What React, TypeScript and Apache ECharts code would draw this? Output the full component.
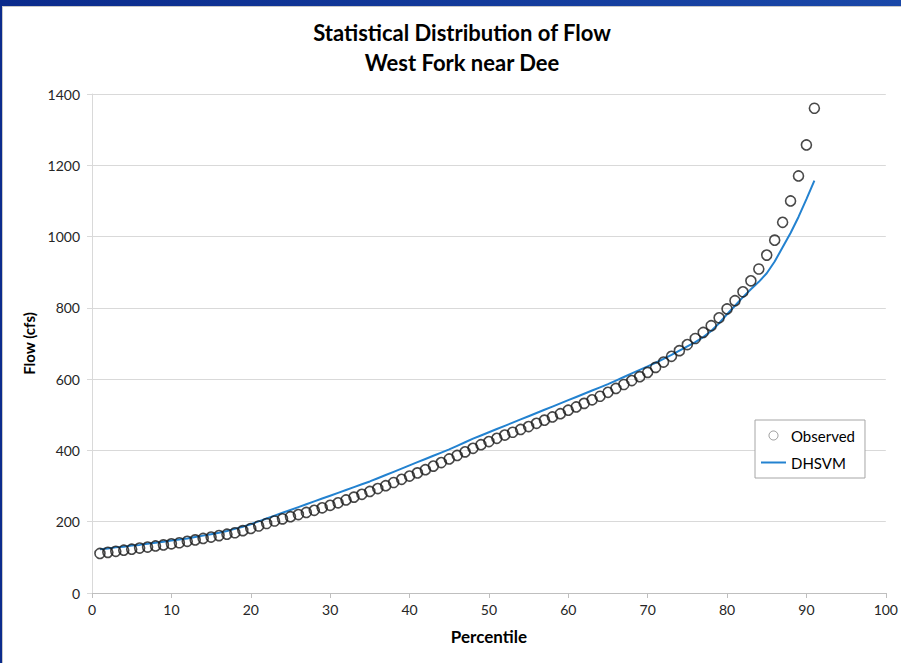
import React, { useEffect, useRef } from "react";
import * as echarts from "echarts";

const percentiles: number[] = Array.from({ length: 91 }, (_, i) => i + 1);

const observed: number[] = [
  111, 114, 117, 120, 123, 126, 129, 132, 135, 138,
  141, 145, 149, 153, 157, 161, 165, 169, 175, 181,
  188, 195, 202, 208, 214, 220, 226, 232, 239, 246,
  253, 261, 269, 277, 285, 293, 301, 310, 319, 328,
  337, 346, 356, 366, 376, 386, 396, 406, 416, 425,
  434, 443, 451, 459, 467, 476, 485, 494, 503, 513,
  522, 532, 542, 552, 563, 574, 585, 596, 607, 619,
  633, 648, 664, 680, 697, 714, 731, 750, 772, 797,
  820, 845, 876, 909, 948, 990, 1040, 1100, 1170, 1257,
  1360,
];

const dhsvm: number[] = [
  123, 125, 128, 130, 133, 135, 138, 141, 144, 147,
  150, 153, 157, 161, 165, 169, 174, 180, 186, 193,
  201, 209, 217, 225, 233, 241, 249, 257, 265, 273,
  281, 289, 297, 305, 313, 322, 331, 340, 349, 358,
  367, 376, 385, 394, 403, 413, 423, 433, 442, 451,
  460, 469, 478, 487, 496, 505, 514, 523, 532, 541,
  550, 559, 568, 577, 586, 596, 606, 616, 626, 636,
  646, 657, 668, 680, 692, 704, 718, 735, 757, 782,
  806, 830, 852, 873, 897, 930, 970, 1010, 1055, 1105,
  1157,
];

const titleLines: string[] = ["Statistical Distribution of Flow", "West Fork near Dee"];
const xAxisName = "Percentile";
const yAxisName = "Flow (cfs)";
const seriesNames: string[] = ["Observed", "DHSVM"];

const FONT = "Lato, 'Open Sans', sans-serif";

export default function App() {
  const ref = useRef<HTMLDivElement>(null);

  useEffect(() => {
    if (!ref.current) return;
    const chart = echarts.init(ref.current, undefined, { renderer: "svg" });
    chart.setOption({
      animation: false,
      backgroundColor: "transparent",
      textStyle: { fontFamily: FONT },
      title: {
        text: titleLines.join("\n"),
        left: 457,
        top: 12,
        textAlign: "center",
        textStyle: {
          fontFamily: FONT,
          fontSize: 22,
          fontWeight: "bold",
          color: "#000",
          lineHeight: 30,
        },
      },
      legend: {
        orient: "vertical",
        left: 755,
        top: 420,
        padding: [8, 10, 8, 6],
        itemGap: 12,
        itemWidth: 25,
        itemHeight: 9,
        backgroundColor: "#fff",
        borderColor: "#a6a6a6",
        borderWidth: 1,
        textStyle: { fontFamily: FONT, fontSize: 15, color: "#000" },
        data: [
          {
            name: seriesNames[0],
            icon: "circle",
            itemStyle: { color: "rgba(255,255,255,0)", borderColor: "#808080", borderWidth: 1 },
          },
          {
            name: seriesNames[1],
            icon: "path://M0 0H25V2H0Z",
            itemStyle: { color: "#2382d0", borderWidth: 0 },
          },
        ],
      },
      grid: { left: 92, right: 15, top: 94, bottom: 70, containLabel: false },
      xAxis: {
        type: "value",
        min: 0,
        max: 100,
        interval: 10,
        name: xAxisName,
        nameLocation: "middle",
        nameGap: 35,
        nameTextStyle: { fontFamily: FONT, fontSize: 17, fontWeight: "bold", color: "#000" },
        axisLine: { show: true, onZero: false, lineStyle: { color: "#bfbfbf", width: 1 } },
        axisTick: { show: true, length: 5, lineStyle: { color: "#bfbfbf" } },
        axisLabel: { fontFamily: FONT, fontSize: 14, color: "#262626", margin: 9 },
        splitLine: { show: false },
      },
      yAxis: {
        type: "value",
        min: 0,
        max: 1400,
        interval: 200,
        name: yAxisName,
        nameLocation: "middle",
        nameRotate: 90,
        nameGap: 51,
        nameTextStyle: { fontFamily: FONT, fontSize: 15, fontWeight: "bold", color: "#000" },
        axisLine: { show: true, lineStyle: { color: "#d9d9d9", width: 1 } },
        axisTick: { show: true, length: 5, lineStyle: { color: "#d9d9d9" } },
        axisLabel: {
          fontFamily: FONT,
          fontSize: 14,
          color: "#262626",
          margin: 12,
          formatter: (v: number) => String(v),
        },
        splitLine: { show: true, lineStyle: { color: "#d9d9d9", width: 1 } },
      },
      series: [
        {
          name: seriesNames[1],
          type: "line",
          data: percentiles.map((p, i) => [p, dhsvm[i]]),
          symbol: "none",
          showSymbol: false,
          smooth: false,
          lineStyle: { color: "#2382d0", width: 2 },
          itemStyle: { color: "#2382d0" },
          z: 2,
        },
        {
          name: seriesNames[0],
          type: "scatter",
          data: percentiles.map((p, i) => [p, observed[i]]),
          symbol: "circle",
          symbolSize: 10,
          itemStyle: { color: "rgba(255,255,255,0)", borderColor: "#1a1a1a", borderWidth: 1.6 },
          z: 3,
        },
      ],
    });
    return () => chart.dispose();
  }, []);

  return (
    <div style={{ position: "fixed", left: 0, top: 0, width: 901, height: 663, background: "#fff", overflow: "hidden" }}>
      <div style={{ position: "absolute", left: 0, top: 0, width: 901, height: 6, background: "linear-gradient(to right, #0b2b8c, #1a48a8)" }} />
      <div style={{ position: "absolute", left: 0, top: 0, width: 2, height: 663, background: "#0b2b8c" }} />
      <div style={{ position: "absolute", left: 2, top: 6, width: 1, height: 657, background: "#c8c8c8" }} />
      <div style={{ position: "absolute", left: 2, top: 6, width: 899, height: 1, background: "#c8c8c8" }} />
      <div ref={ref} style={{ position: "absolute", left: 0, top: 0, width: 901, height: 663 }} />
    </div>
  );
}
